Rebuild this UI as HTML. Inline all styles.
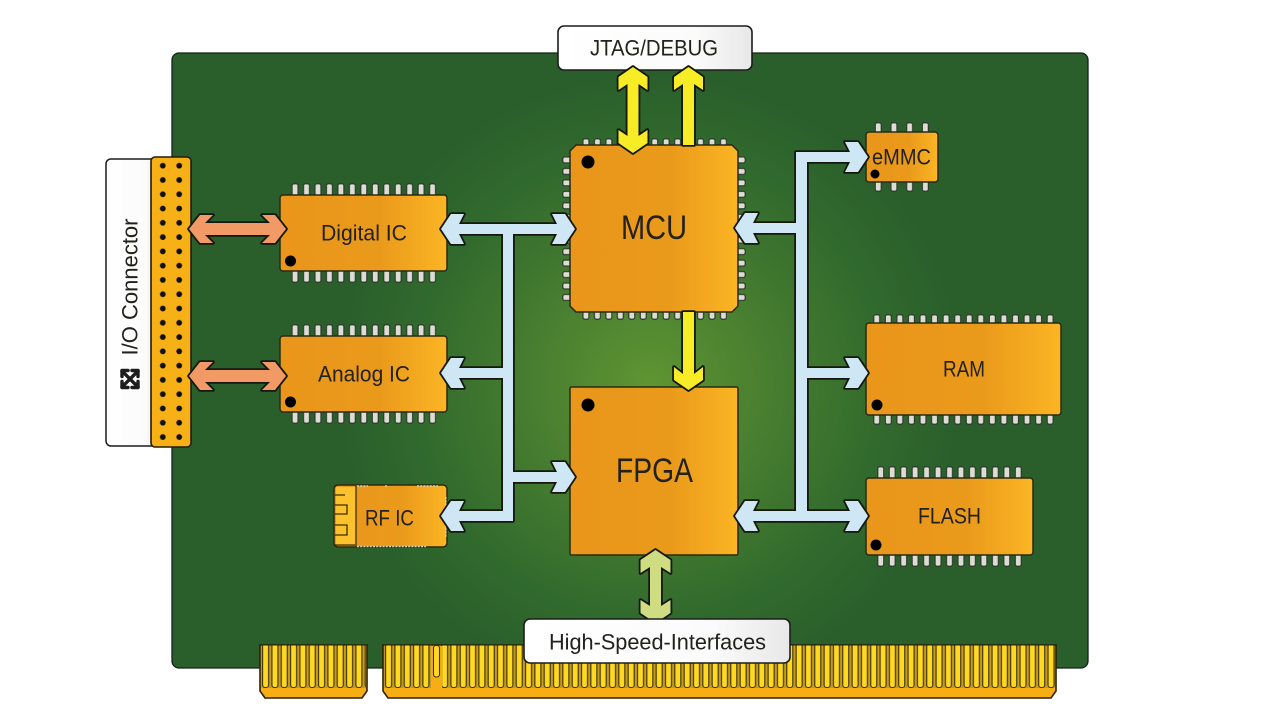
<!DOCTYPE html>
<html>
<head>
<meta charset="utf-8">
<style>
html,body{margin:0;padding:0;background:#fff}
svg{display:block}
text{font-family:"Liberation Sans","Noto Sans CJK SC",sans-serif;fill:#23211c;text-anchor:middle;dominant-baseline:central}
</style>
</head>
<body>
<svg width="1280" height="721" viewBox="0 0 1280 721" xmlns="http://www.w3.org/2000/svg">
<defs>
  <radialGradient id="pcb" gradientUnits="userSpaceOnUse" cx="650" cy="385" r="310">
    <stop offset="0" stop-color="#5f9532"/>
    <stop offset=".35" stop-color="#4a8030"/>
    <stop offset=".75" stop-color="#316a2d"/>
    <stop offset="1" stop-color="#2a5f2c"/>
  </radialGradient>
  <linearGradient id="chip" x1="0" x2="1" y1="0" y2="0">
    <stop offset="0" stop-color="#e9961b"/>
    <stop offset=".6" stop-color="#ea9a1b"/>
    <stop offset="1" stop-color="#fbb524"/>
  </linearGradient>
  <linearGradient id="lbl" x1="0" x2="1" y1="0" y2="0">
    <stop offset="0" stop-color="#ffffff"/>
    <stop offset=".7" stop-color="#fbfbfb"/>
    <stop offset="1" stop-color="#e8e8e8"/>
  </linearGradient>
  <pattern id="pin" patternUnits="userSpaceOnUse" width="11.46" height="40">
    <rect x=".75" y=".75" width="6" height="40" rx="2" fill="#dedcd4" stroke="#2c3a2c" stroke-width="1.200"/>
  </pattern>
  <pattern id="pin3" patternUnits="userSpaceOnUse" width="11.56" height="40">
    <rect x=".75" y=".75" width="6" height="40" rx="2" fill="#dedcd4" stroke="#2c3a2c" stroke-width="1.200"/>
  </pattern>
  <pattern id="pin2" patternUnits="userSpaceOnUse" width="15.7" height="40">
    <rect x=".75" y=".75" width="6" height="40" rx="2" fill="#dedcd4" stroke="#2c3a2c" stroke-width="1.200"/>
  </pattern>
  <pattern id="fing" patternUnits="userSpaceOnUse" width="9.33" height="60">
    <rect width="9.33" height="60" fill="#c49a22"/>
    <rect x="1.600" y="-6" width="6" height="48" rx="2.500" fill="#ffd91f" stroke="#3a3010" stroke-width="1.100"/>
  </pattern>
  <pattern id="holes" patternUnits="userSpaceOnUse" width="16.4" height="14.28">
    <circle cx="4" cy="4" r="2.900" fill="#111"/>
  </pattern>
  <path id="blueL" d="M441 229L451 214H464L459 224H557L552 214H565L575 229L565 244H552L557 234H513V521H459L464 531H451L441 516L451 501H464L459 511H503V378H459L464 388H451L441 373L451 358H464L459 368H503V234H459L464 244H451Z"/>
  <path id="blueF" d="M505 472H557L552 462H565L575 477L565 492H552L557 482H505Z"/>
  <path id="blueR" d="M796 152H850L845 142H858L868 157L858 172H845L850 162H807V368H850L845 358H858L868 373L858 388H845L850 378H807V511H850L845 501H858L868 516L858 531H845L850 521H753L758 531H745L735 516L745 501H758L753 511H796V233H753L758 243H745L735 228L745 213H758L753 223H796Z"/>
  <path id="orangeA" d="M189 229L200 215H213L205 223H270L262 215H275L286 229L275 243H262L270 235H205L213 243H200Z"/>
  <path id="orangeB" d="M189 376L200 362H213L205 370H270L262 362H275L286 376L275 390H262L270 382H205L213 390H200Z"/>
  <path id="y1" d="M633 67L647.500 77V90L638.500 84V136L647.500 130V143L633 153L618.500 143V130L627.500 136V84L618.500 90V77Z"/>
  <path id="y2" d="M688.500 67L703 77V90L694 84V145H683V84L674 90V77Z"/>
  <path id="y3" d="M683 312H694V374L703 367V380L688.500 390L674 380V367L683 374Z"/>
  <path id="g1" d="M655.500 550L670.500 560V573L661 567V606L670.500 600V613L655.500 623L640.500 613V600L650 606V567L640.500 573V560Z"/>
</defs>

<!-- Board -->
<rect x="172" y="53" width="916" height="615" rx="7" fill="url(#pcb)" stroke="#14201a" stroke-width="1.300"/>

<!-- Edge connectors -->
<g stroke="#2a2208" stroke-width="1.600">
  <path d="M260 645H367V691L362 698H265L260 691Z" fill="#f6ae14"/>
  <path d="M383 645H1056V691L1051 698H388L383 691Z" fill="#f6ae14"/>
</g>
<g transform="translate(261,645.500)"><rect width="105" height="42.500" fill="url(#fing)"/></g>
<g transform="translate(384,645.500)"><rect width="671" height="42.500" fill="url(#fing)"/></g>
<rect x="431" y="646" width="11" height="43" fill="#f6ae14"/>
<rect x="433.500" y="645.500" width="6" height="31.500" rx="2.500" fill="#ffd91f" stroke="#3a3010" stroke-width="1.100"/>

<!-- I/O connector -->
<rect x="106" y="159" width="56" height="287" rx="5" fill="url(#lbl)" stroke="#1c1c1c" stroke-width="1.500"/>
<rect x="151" y="157" width="40" height="290" rx="4" fill="#f7b016" stroke="#231c08" stroke-width="1.600"/>
<g transform="translate(158.800,161.700)"><rect width="25" height="285" fill="url(#holes)"/></g>
<text x="130" y="287" font-size="22" textLength="137" lengthAdjust="spacingAndGlyphs" transform="rotate(-90 130 287)">I/O Connector</text>
<g stroke="#1d1d1d" fill="none" stroke-linecap="round" stroke-linejoin="round" stroke-width="3.400">
  <path d="M122 371L138 387M138 371L122 387"/>
  <path d="M122 376.500V370.500H128M132 370.500H138V376.500M122 381.500V387.500H128M132 387.500H138V381.500"/>
</g>

<!-- Pins -->
<g transform="translate(291.300,183)"><rect width="145" height="13" fill="url(#pin)"/></g>
<g transform="translate(291.300,283) scale(1,-1)"><rect width="145" height="13" fill="url(#pin)"/></g>
<g transform="translate(291.300,324)"><rect width="145" height="13" fill="url(#pin)"/></g>
<g transform="translate(291.300,424) scale(1,-1)"><rect width="145" height="13" fill="url(#pin)"/></g>
<g transform="translate(582.200,138)"><rect width="145" height="8" fill="url(#pin)"/></g>
<g transform="translate(582.200,320) scale(1,-1)"><rect width="145" height="9" fill="url(#pin)"/></g>
<g transform="matrix(0,1,1,0,562,156.200)"><rect width="145" height="9" fill="url(#pin)"/></g>
<g transform="matrix(0,1,-1,0,746,156.200)"><rect width="145" height="9" fill="url(#pin)"/></g>
<g transform="translate(874.500,122)"><rect width="55" height="11" fill="url(#pin2)"/></g>
<g transform="translate(874.500,192) scale(1,-1)"><rect width="55" height="11" fill="url(#pin2)"/></g>
<g transform="translate(873,314)"><rect width="181" height="10" fill="url(#pin3)"/></g>
<g transform="translate(873,425) scale(1,-1)"><rect width="181" height="11" fill="url(#pin3)"/></g>
<g transform="translate(877,466)"><rect width="145" height="13" fill="url(#pin)"/></g>
<g transform="translate(877,567) scale(1,-1)"><rect width="145" height="13" fill="url(#pin)"/></g>

<!-- Chips -->
<g fill="url(#chip)" stroke="#2a2a14" stroke-width="1.500">
  <rect x="280" y="195" width="167" height="76" rx="3"/>
  <rect x="280" y="336" width="167" height="76" rx="3"/>
  <path d="M576 145H732L738 151V306L732 312H576L570 306V151Z"/>
  <rect x="570" y="387" width="168" height="168" rx="1.500"/>
  <rect x="866" y="132" width="72" height="50" rx="3"/>
  <rect x="866" y="323" width="195" height="92" rx="3"/>
  <rect x="866" y="478" width="167" height="77" rx="3"/>
  <rect x="334" y="485" width="113" height="62" rx="4"/>
</g>
<!-- RF module details -->
<path d="M336 487H356V545H336Z" fill="#fcc22e"/>
<path d="M356 486V546M335 495H345M335 505H347V514H335M335 525H347V535H335M335 545H355" fill="none" stroke="#3d2f08" stroke-width="1.300"/>
<g fill="none" stroke="#d8d2b8" stroke-width="1.600" stroke-dasharray="2 1.200">
  <path d="M357 486H368M385 486H388M417 486H438M357 546.500H426M445.800 497V510M445.800 525V537"/>
</g>

<!-- Pin-1 dots -->
<g fill="#000">
  <circle cx="290.500" cy="261" r="5.500"/>
  <circle cx="290.500" cy="402" r="5.500"/>
  <circle cx="588" cy="162" r="6.500"/>
  <circle cx="588" cy="405" r="6.500"/>
  <circle cx="875" cy="174" r="4.500"/>
  <circle cx="877" cy="405" r="5.500"/>
  <circle cx="876" cy="545" r="5.500"/>
</g>

<!-- Chip labels -->
<text x="364" y="233" font-size="22" textLength="86" lengthAdjust="spacingAndGlyphs">Digital IC</text>
<text x="364" y="374" font-size="22" textLength="92" lengthAdjust="spacingAndGlyphs">Analog IC</text>
<text x="389.500" y="518" font-size="22" textLength="49" lengthAdjust="spacingAndGlyphs">RF IC</text>
<text x="654" y="228" font-size="34" textLength="66" lengthAdjust="spacingAndGlyphs">MCU</text>
<text x="654.500" y="471" font-size="34" textLength="77" lengthAdjust="spacingAndGlyphs">FPGA</text>
<text x="901.500" y="157" font-size="22" textLength="59" lengthAdjust="spacingAndGlyphs">eMMC</text>
<text x="964" y="369" font-size="22" textLength="42" lengthAdjust="spacingAndGlyphs">RAM</text>
<text x="949.500" y="516" font-size="22" textLength="63" lengthAdjust="spacingAndGlyphs">FLASH</text>

<!-- JTAG box -->
<rect x="558" y="26" width="194" height="44" rx="6" fill="url(#lbl)" stroke="#1c1c1c" stroke-width="1.600"/>
<text x="654" y="48" font-size="22" textLength="128" lengthAdjust="spacingAndGlyphs">JTAG/DEBUG</text>

<!-- Arrows: outlines -->
<g stroke="#15180f" stroke-width="3.600" stroke-linejoin="round">
  <use href="#blueL" fill="#cfe6f5"/><use href="#blueF" fill="#cfe6f5"/><use href="#blueR" fill="#cfe6f5"/>
  <use href="#orangeA" fill="#f19a66"/><use href="#orangeB" fill="#f19a66"/>
  <use href="#y1" fill="#f8ec26"/><use href="#y2" fill="#f8ec26"/><use href="#y3" fill="#f8ec26"/>
  <use href="#g1" fill="#cfdc82"/>
</g>
<g>
  <use href="#blueL" fill="#cfe6f5"/><use href="#blueF" fill="#cfe6f5"/><use href="#blueR" fill="#cfe6f5"/>
  <use href="#orangeA" fill="#f19a66"/><use href="#orangeB" fill="#f19a66"/>
  <use href="#y1" fill="#f8ec26"/><use href="#y2" fill="#f8ec26"/><use href="#y3" fill="#f8ec26"/>
  <use href="#g1" fill="#cfdc82"/>
</g>

<!-- High speed box -->
<rect x="524" y="619" width="266" height="44" rx="6" fill="url(#lbl)" stroke="#1c1c1c" stroke-width="1.600"/>
<text x="657.500" y="642" font-size="22" textLength="217" lengthAdjust="spacingAndGlyphs">High-Speed-Interfaces</text>
</svg>
</body>
</html>
